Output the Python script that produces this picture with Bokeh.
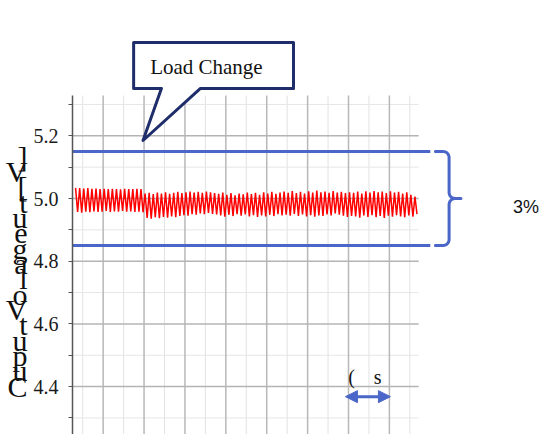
import numpy as np
from bokeh.plotting import figure
from bokeh.models import Range1d, FixedTicker, PrintfTickFormatter, Label, Arrow, NormalHead
from bokeh.embed import file_html
from bokeh.resources import INLINE

# ---------------- data ----------------
y_major_ticks = [4.4, 4.6, 4.8, 5.0, 5.2]
y_minor_ticks = [4.3, 4.5, 4.7, 4.9, 5.1, 5.3]
x_grid_lines = list(range(0, 17))          # time grid (divisions)
band_upper = 5.15                          # +1.5 %
band_lower = 4.85                          # -1.5 %
band_text = "3%"
callout_text = "Load Change"
load_change_t = 2.95
y_label_glyphs = ["]", "V", "[", "t", "u", "e", "g", "a", "l", "o", "V", "t", "u", "p", "u", "C"]

t_start = -0.35      # first ripple cycle (divisions)
period = 0.2         # ripple period (divisions)

# ripple peaks / troughs before the load change
highs_before = [5.034, 5.033, 5.032, 5.033, 5.031, 5.032, 5.030, 5.031, 5.030,
                5.031, 5.030, 5.029, 5.031, 5.030, 5.030, 5.031, 5.030]
lows_before = [4.957, 4.955, 4.958, 4.956, 4.959, 4.957, 4.958, 4.960, 4.957,
               4.959, 4.958, 4.960, 4.958, 4.959, 4.957, 4.958, 4.956]
# ripple peaks / troughs after the load change
highs_after = [5.016, 5.018, 5.014, 5.019, 5.016, 5.020, 5.015, 5.018, 5.021,
               5.017, 5.020, 5.022, 5.019, 5.021, 5.018, 5.022, 5.020, 5.017,
               5.015, 5.019, 5.012, 5.017, 5.010, 5.016, 5.013, 5.019, 5.014,
               5.018, 5.012, 5.020, 5.016, 5.021, 5.015, 5.019,
               5.022, 5.018, 5.024, 5.017, 5.021, 5.016, 5.023, 5.019, 5.025,
               5.020, 5.022, 5.018, 5.024, 5.019, 5.021, 5.017, 5.020,
               5.018, 5.022, 5.016, 5.023, 5.019, 5.024, 5.020, 5.022, 5.017,
               5.023, 5.019, 5.021, 5.016, 5.020, 5.012, 5.006]
lows_after = [4.938, 4.936, 4.940, 4.937, 4.941, 4.939, 4.943, 4.940, 4.944,
              4.947, 4.945, 4.950, 4.948, 4.952, 4.950, 4.954, 4.951, 4.949,
              4.946, 4.942, 4.948, 4.944, 4.950, 4.945, 4.949, 4.943, 4.947,
              4.941, 4.946, 4.943, 4.948, 4.944, 4.950, 4.946,
              4.948, 4.945, 4.951, 4.944, 4.949, 4.943, 4.947, 4.942, 4.946,
              4.944, 4.949, 4.946, 4.952, 4.948, 4.945, 4.941, 4.944,
              4.943, 4.939, 4.946, 4.941, 4.947, 4.940, 4.944, 4.938, 4.945,
              4.942, 4.947, 4.943, 4.940, 4.946, 4.942, 4.950]

# ---------------- figure ----------------
X0, X1 = -0.5, 22.44
Y0, Y1 = 4.2472, 5.6316
GRID_TOP = 5.3285
GRID_RIGHT = 16.43
SERIF = "'Liberation Serif', 'Times New Roman', serif"

p = figure(width=541, height=434, x_range=Range1d(X0, X1), y_range=Range1d(Y0, Y1),
           output_backend="svg", toolbar_location=None, x_axis_location=None,
           min_border=0, min_border_left=72)
p.grid.visible = False
p.outline_line_color = None
p.background_fill_color = "white"
p.border_fill_color = "white"

ax = p.yaxis[0]
ax.ticker = FixedTicker(ticks=y_major_ticks, minor_ticks=y_minor_ticks)
ax.formatter = PrintfTickFormatter(format="%.1f")
ax.bounds = (Y0, GRID_TOP)
ax.axis_line_color = "#555555"
ax.axis_line_width = 1.5
ax.major_tick_in = 0
ax.major_tick_out = 4
ax.minor_tick_in = 0
ax.minor_tick_out = 4
ax.major_tick_line_color = "#555555"
ax.minor_tick_line_color = "#555555"
ax.major_label_standoff = 10
ax.major_label_text_font = SERIF
ax.major_label_text_font_size = "20px"
ax.major_label_text_color = "#1a1a1a"
# stacked glyph label; leading blank lines push the stack down along the axis
ax.axis_label = "\n".join(["\u00a0"] * 7 + y_label_glyphs)
ax.axis_label_orientation = "horizontal"
ax.axis_label_text_font = SERIF
ax.axis_label_text_font_style = "normal"
ax.axis_label_text_font_size = "30px"
ax.axis_label_text_line_height = 0.465
ax.axis_label_text_color = "#111111"
ax.axis_label_standoff = 3

# grid lines
minor_x = [g for g in x_grid_lines if g % 2 == 0]
major_x = [g for g in x_grid_lines if g % 2 == 1]
p.segment(x0=minor_x, x1=minor_x, y0=[Y0] * len(minor_x), y1=[GRID_TOP] * len(minor_x),
          line_color="#e2e2e2", line_width=1)
p.segment(x0=[X0] * len(y_minor_ticks), x1=[GRID_RIGHT] * len(y_minor_ticks),
          y0=y_minor_ticks, y1=y_minor_ticks, line_color="#e6e6e6", line_width=1)
p.segment(x0=major_x, x1=major_x, y0=[Y0] * len(major_x), y1=[GRID_TOP] * len(major_x),
          line_color="#b8b8b8", line_width=1.5)
p.segment(x0=[X0] * len(y_major_ticks), x1=[GRID_RIGHT] * len(y_major_ticks),
          y0=y_major_ticks, y1=y_major_ticks, line_color="#b4b4b4", line_width=1.5)

# ripple waveform
highs = highs_before + highs_after
lows = lows_before + lows_after
vals = []
for h, l in zip(highs, lows):
    vals.extend([h, l])
tt = t_start + np.arange(len(vals)) * (period / 2)
p.line(tt, vals, line_color="#ff0000", line_width=1.5)

# tolerance band lines
BLUE = "#4a66c8"
band_end = 17.0
p.line([X0, band_end], [band_upper, band_upper], line_color=BLUE, line_width=3)
p.line([X0, band_end], [band_lower, band_lower], line_color=BLUE, line_width=3)

# bracket
mid = (band_upper + band_lower) / 2
xa, xb, xt = 17.25, 17.92, 18.5
rx, ry = 6 / 20.445, 6 / 313.5
bx, by = [xa, xb - rx], [band_upper, band_upper]
a = np.linspace(np.pi / 2, 0, 8)
bx += list(xb - rx + rx * np.cos(a)); by += list(band_upper - ry + ry * np.sin(a))
a = np.linspace(np.pi, 1.5 * np.pi, 8)
bx += list(xb + rx + rx * np.cos(a)); by += list(mid + ry + ry * np.sin(a))
bx += [xt]; by += [mid]
a = np.linspace(0.5 * np.pi, np.pi, 8)
bx += [xb + rx] + list(xb + rx + rx * np.cos(a)); by += [mid] + list(mid - ry + ry * np.sin(a))
a = np.linspace(0, -0.5 * np.pi, 8)
bx += list(xb - rx + rx * np.cos(a)); by += list(band_lower + ry + ry * np.sin(a))
bx += [xa]; by += [band_lower]
p.line(bx, by, line_color=BLUE, line_width=3, line_join="round", line_cap="round")

p.add_layout(Label(x=21.68, y=4.973, text=band_text, text_font="Liberation Sans",
                   text_font_size="18px", text_align="center", text_baseline="alphabetic",
                   text_color="#111111"))

# callout
cx0, cx1, cy0, cy1 = 2.49, 10.31, 5.351, 5.498
tail_a, tail_b = 3.85, 5.76
p.patch([cx0, cx1, cx1, tail_b, load_change_t, tail_a, cx0],
        [cy1, cy1, cy0, cy0, 5.185, cy0, cy0],
        fill_color="white", line_color="#1f2d6b", line_width=3, line_join="round")
p.add_layout(Label(x=6.05, y=5.418, text=callout_text, text_font=SERIF,
                   text_font_size="21px", text_align="center", text_baseline="alphabetic",
                   text_color="#111111"))

# time scale marker
p.add_layout(Arrow(x_start=12.85, x_end=15.05, y_start=4.368, y_end=4.368,
                   line_color=BLUE, line_width=3,
                   start=NormalHead(size=12, fill_color=BLUE, line_color=BLUE),
                   end=NormalHead(size=12, fill_color=BLUE, line_color=BLUE)))
p.add_layout(Label(x=13.15, y=4.430, text="(", text_font=SERIF,
                   text_font_size="20px", text_align="center", text_baseline="alphabetic",
                   text_color="#111111"))
p.add_layout(Label(x=14.42, y=4.430, text="s", text_font=SERIF,
                   text_font_size="20px", text_align="center", text_baseline="alphabetic",
                   text_color="#111111"))

open("out.html", "w").write(file_html(p, INLINE))
